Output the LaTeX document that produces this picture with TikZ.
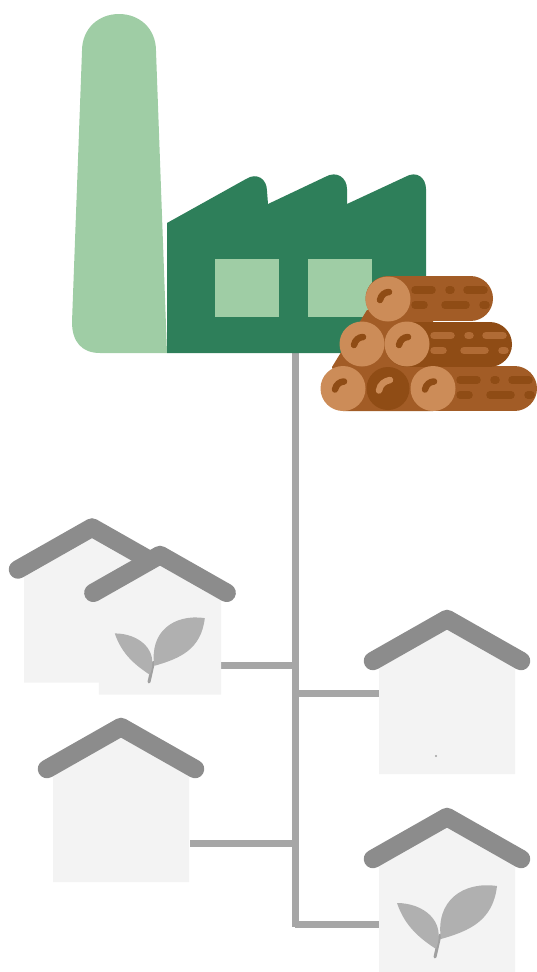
\documentclass[tikz,border=0pt]{standalone}
\usetikzlibrary{positioning}
\definecolor{mlchimney}{HTML}{9FCDA5}
\definecolor{mlhall}{HTML}{2E7F5A}
\definecolor{lgbark}{HTML}{A25C26}
\definecolor{lgdark}{HTML}{8F4C15}
\definecolor{lglight}{HTML}{B06B35}
\definecolor{lgface}{HTML}{CC8C58}
\definecolor{hswall}{HTML}{F3F3F3}
\definecolor{hsroof}{HTML}{8C8C8C}
\definecolor{hsleaf}{HTML}{B0B0B0}
\definecolor{hsstem}{HTML}{A0A0A0}
\definecolor{hspipe}{HTML}{A6A6A6}
\tikzset{
  pipe/.style={draw=hspipe, line width=7pt, line cap=butt},
  logface/.style={fill=lgface},
  logring/.style={line width=6.5pt, line cap=round},
  house/.pic={
    \fill[hswall] (-68, 40) -- (0, 0) -- (68, 40) -- (68, 155)
      -- (-68, 155) -- cycle;
    \draw[hsroof, line width=18.5pt, line cap=round, line join=round]
      (-74, 42) -- (0, 0) -- (74, 42);
  },
  sprout/.pic={
    \draw[hsstem, line width=3pt, line cap=round] (5, -22) -- (0, 0);
    \fill[hsleaf] (-38, -54) .. controls (-12, -54) and (12, -36) .. (1, -8)
      .. controls (-14, -18) and (-30, -30) .. cycle;
    \fill[hsleaf] (62, -71) .. controls (28, -76) and (0, -56) .. (6, -18)
      .. controls (34, -26) and (58, -36) .. cycle;
  },
}
\begin{document}
\begin{tikzpicture}[x=1pt, y=-1pt]
\useasboundingbox (0, 0) rectangle (537, 972);

% Connector ends.
\coordinate (millfoot) at (295, 353);
\coordinate (trunkend) at (295, 927);
\coordinate (joinb) at (295, 665);
\coordinate (joinc) at (295, 693);
\coordinate (joind) at (295, 843);
\coordinate (joine) at (295, 924);
\coordinate (doorb) at (221, 665);
\coordinate (doorc) at (379, 693);
\coordinate (doord) at (190, 843);
\coordinate (doore) at (379, 924);

% Pipes.
\draw[pipe] (millfoot) -- (trunkend);
\draw[pipe] (doorb) -- (joinb);
\draw[pipe] (joinc) -- (doorc);
\draw[pipe] (doord) -- (joind);
\draw[pipe] (joine) -- (doore);

% Factory.
\fill[mlhall] (167, 223) -- (246, 179)
  .. controls (257, 172) and (267, 179) .. (267, 191)
  -- (268, 204) -- (325, 177)
  .. controls (337, 170) and (347, 178) .. (347, 189)
  -- (347, 204) -- (405, 177)
  .. controls (417, 170) and (426, 178) .. (426, 189)
  -- (426, 353) -- (167, 353) -- cycle;
\fill[mlchimney] (82, 51) .. controls (82, 28) and (99, 14) .. (119, 14)
  .. controls (139, 14) and (156, 28) .. (156, 51)
  -- (167, 353) -- (100, 353)
  .. controls (82, 353) and (72, 342) .. (72, 322) -- cycle;
\foreach \wx in {215, 308} {
  \fill[mlchimney] (\wx, 258.5) rectangle +(64, 58.5);
}

% Logs.
\fill[lgbark] (367, 310) -- (332, 367) -- (343, 411) -- (433, 411)
  -- (433, 310) -- cycle;
\foreach \lx/\ly/\lend/\lbody/\ldash in {
    433/388.5/514.5/lgbark/lgdark,
    407/344/489.5/lgdark/lglight,
    388/298.5/470.5/lgbark/lgdark} {
  \draw[\lbody, line width=45pt, line cap=round] (\lx, \ly) -- (\lend, \ly);
  \foreach \da/\db in {27/44, 61/63, 79/96} {
    \draw[\ldash, line width=7.5pt, line cap=round]
      (\lx + \da, \ly - 8.5) -- (\lx + \db, \ly - 8.5);
  }
  \foreach \da/\db in {27/36, 57/78, 95/98} {
    \draw[\ldash, line width=7.5pt, line cap=round]
      (\lx + \da, \ly + 6.5) -- (\lx + \db, \ly + 6.5);
  }
}
\fill[lgdark] (388, 388.5) circle [radius=21.5];
\draw[lgface, logring] (379, 390.5) .. controls (380, 384) and (385, 381) .. (390, 380);
\foreach \cx/\cy in {343/388.5, 433/388.5, 362/344, 407/344, 388/299} {
  \fill[logface] (\cx, \cy) circle [radius=22.5];
  \draw[lgdark, logring] (\cx - 8, \cy + 1) .. controls (\cx - 7, \cy - 4) and (\cx - 3, \cy - 7) .. (\cx + 1, \cy - 7);
}

% Houses.
\pic at (92, 527.5) {house};
\pic[scale=0.9] at (160, 555) {house};
\pic at (447, 619) {house};
\pic at (121, 727) {house};
\pic at (447, 817) {house};
\pic[scale=0.9] at (149, 682) {sprout};
\pic at (435, 957) {sprout};
\fill[hsstem] (436, 756) circle [radius=1.2];

\end{tikzpicture}
\end{document}
